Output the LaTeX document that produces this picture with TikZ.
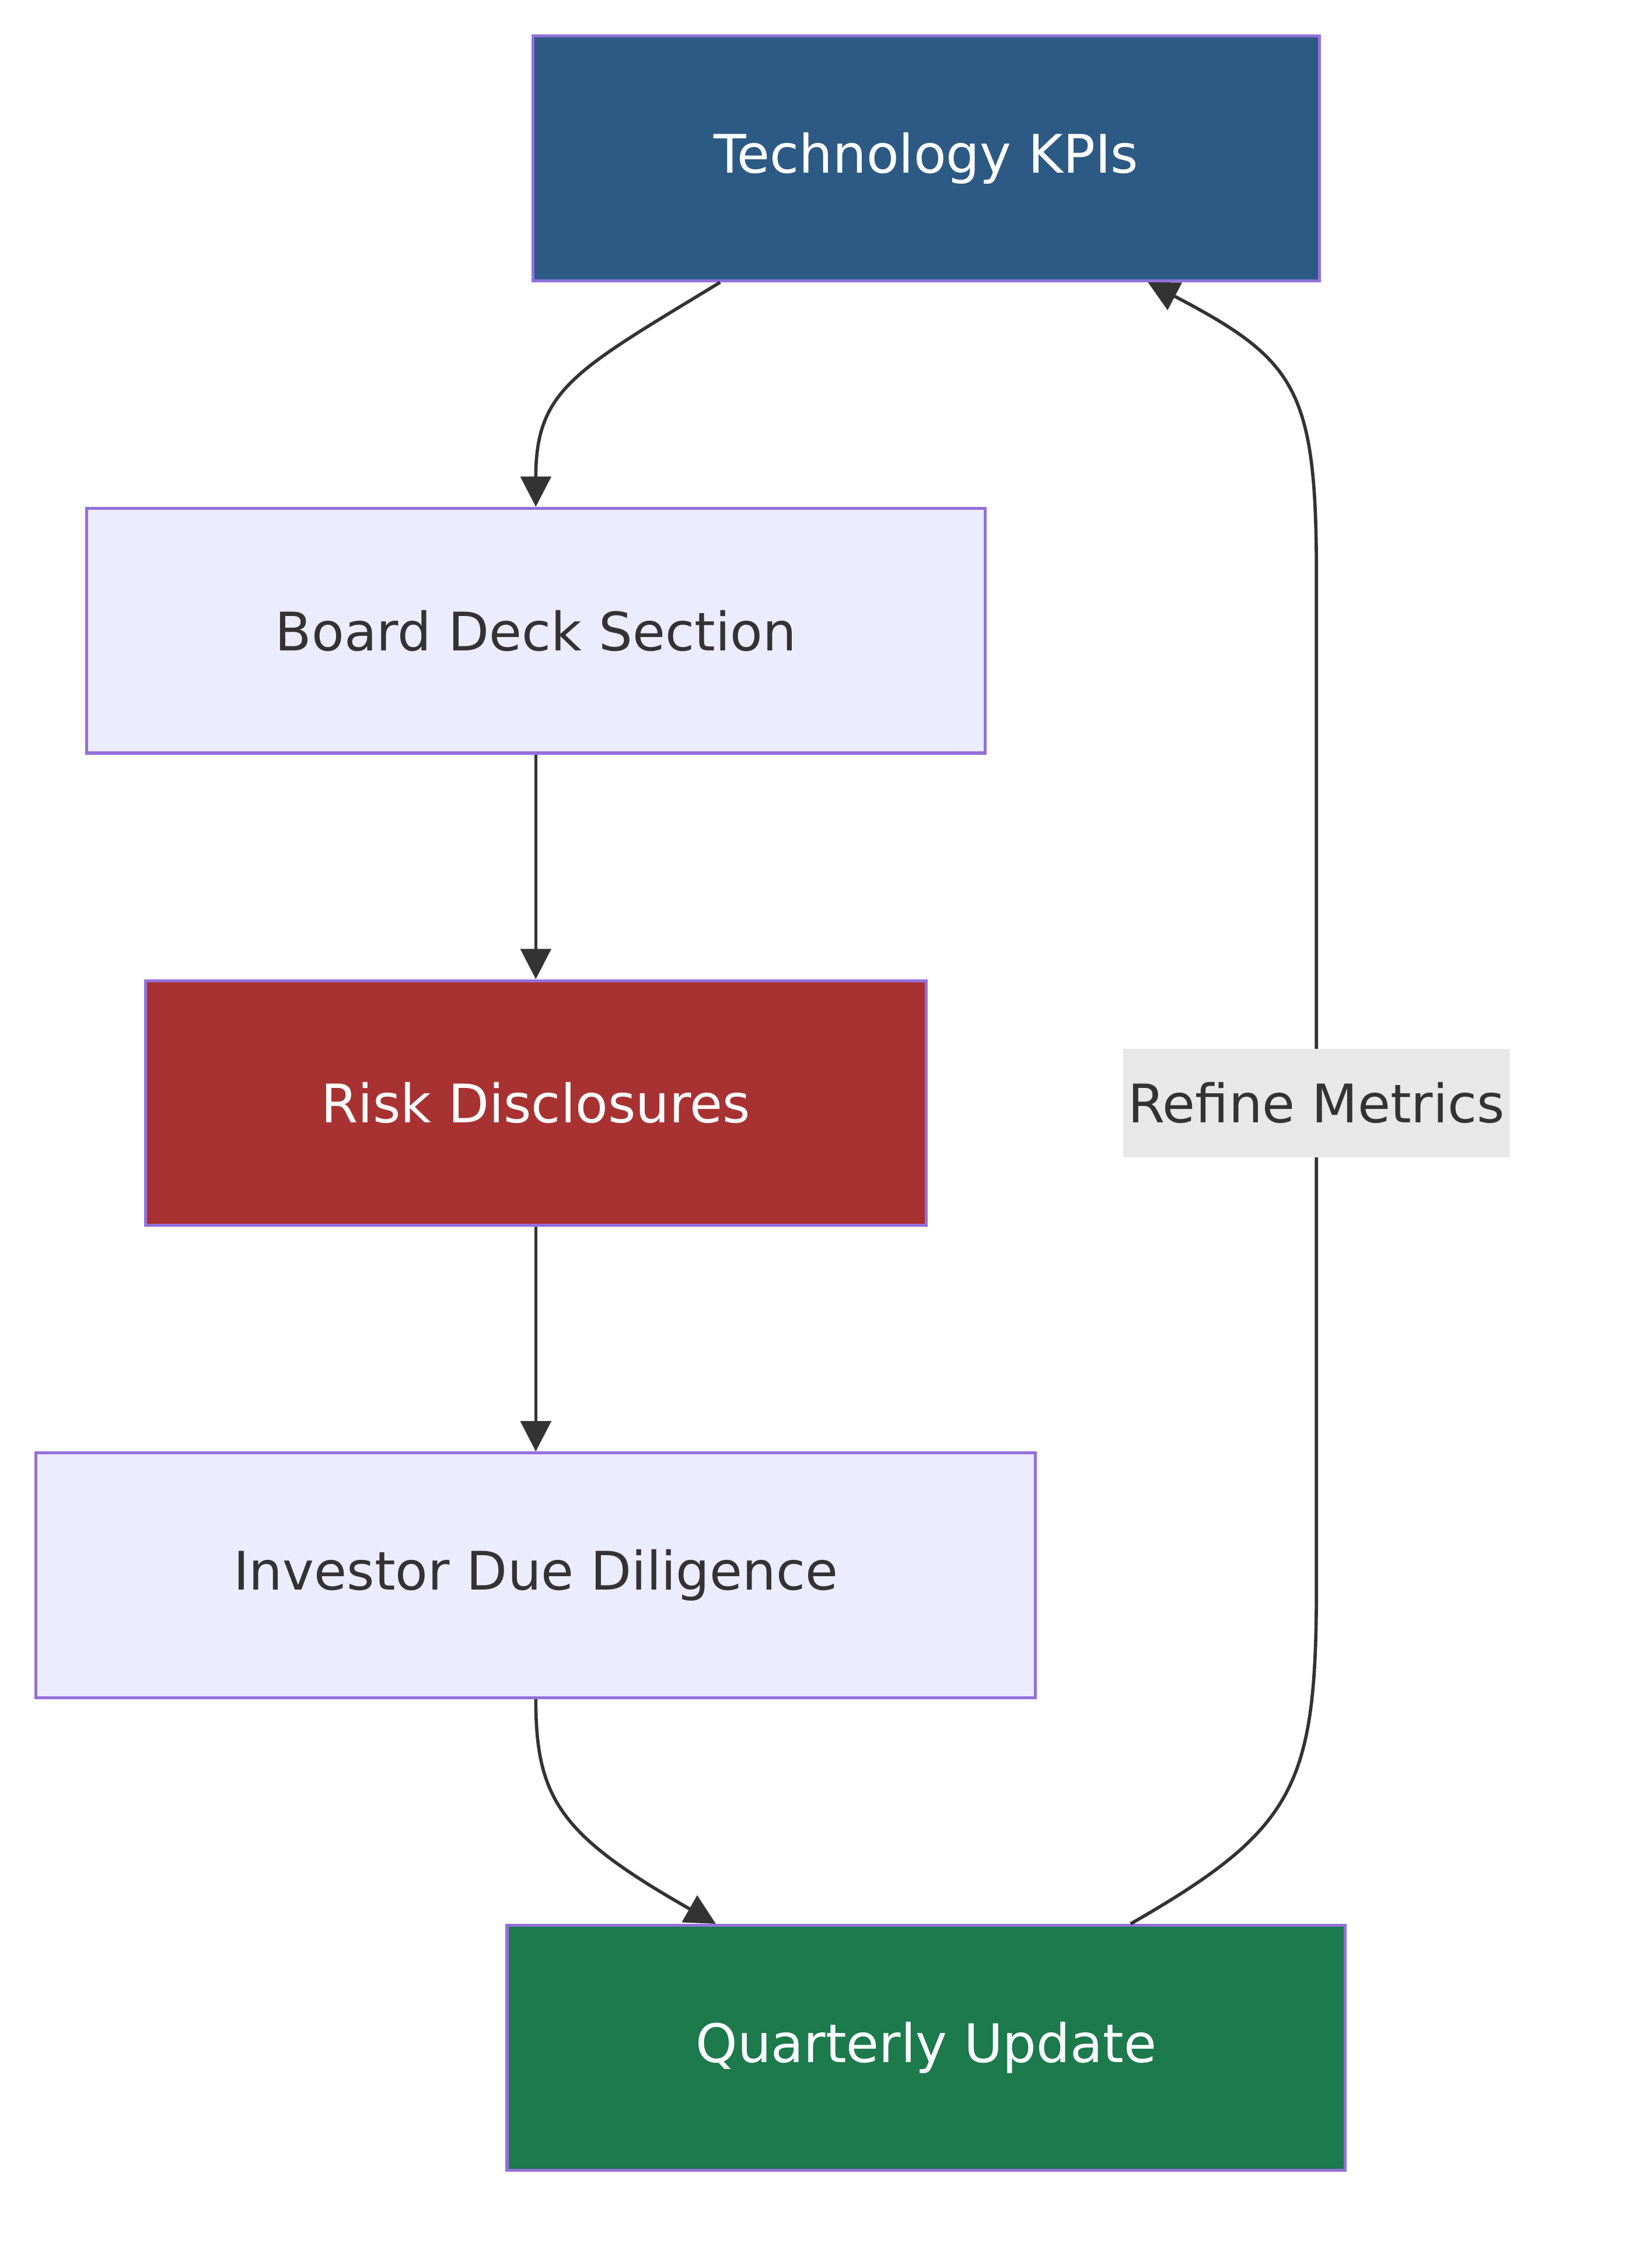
\documentclass[tikz,border=0pt]{standalone}
\usepackage{fontspec}
\setmainfont{DejaVu Sans}
\usetikzlibrary{positioning,arrows.meta}
\definecolor{techblue}{HTML}{2C5A85}
\definecolor{riskred}{HTML}{A83232}
\definecolor{qgreen}{HTML}{1C7A4C}
\definecolor{lilac}{HTML}{ECECFF}
\definecolor{edgepurple}{HTML}{9370DB}
\definecolor{ink}{HTML}{333333}
\definecolor{lblgray}{HTML}{E8E8E8}

\begin{document}
\begin{tikzpicture}[x=0.02cm, y=-0.02cm,
    box/.style={rectangle, draw=edgepurple, line width=1.2pt, minimum height=3.4cm, font=\fontsize{21}{25}\selectfont, text=ink, fill=lilac},
    flow/.style={-{Triangle[length=12pt,width=12pt]}, draw=ink, line width=1.3pt}]
    \useasboundingbox (0,0) rectangle (1131,1575);

    \node [box, fill=techblue, text=white, minimum width=10.92cm] (kpi) at (643,110) {Technology KPIs};
    \node [box, minimum width=12.48cm] (deck) at (372,438) {Board Deck Section};
    \node [box, fill=riskred, text=white, minimum width=10.84cm] (risk) at (372,766) {Risk Disclosures};
    \node [box, minimum width=13.88cm] (invest) at (372,1094) {Investor Due Diligence};
    \node [box, fill=qgreen, text=white, minimum width=11.64cm] (quarter) at (643,1422) {Quarterly Update};

    \draw [flow] (kpi.south -| 500,0) .. controls (400,257) and (372,270) .. (deck.north);
    \draw [flow] (deck) -- (risk);
    \draw [flow] (risk) -- (invest);
    \draw [flow] (invest.south) .. controls (372,1250) and (390,1275) .. (quarter.north -| 497,0);
    \draw [flow] (quarter.north -| 785,0) .. controls (900,1270) and (914,1240) .. (914,1100)
        -- (914,400) .. controls (914,270) and (900,250) .. (kpi.south -| 797,0);
    \node [fill=lblgray, text=ink, font=\fontsize{21}{25}\selectfont, inner sep=2pt, minimum height=1.5cm] (refine) at (914,766) {Refine Metrics};
\end{tikzpicture}
\end{document}
